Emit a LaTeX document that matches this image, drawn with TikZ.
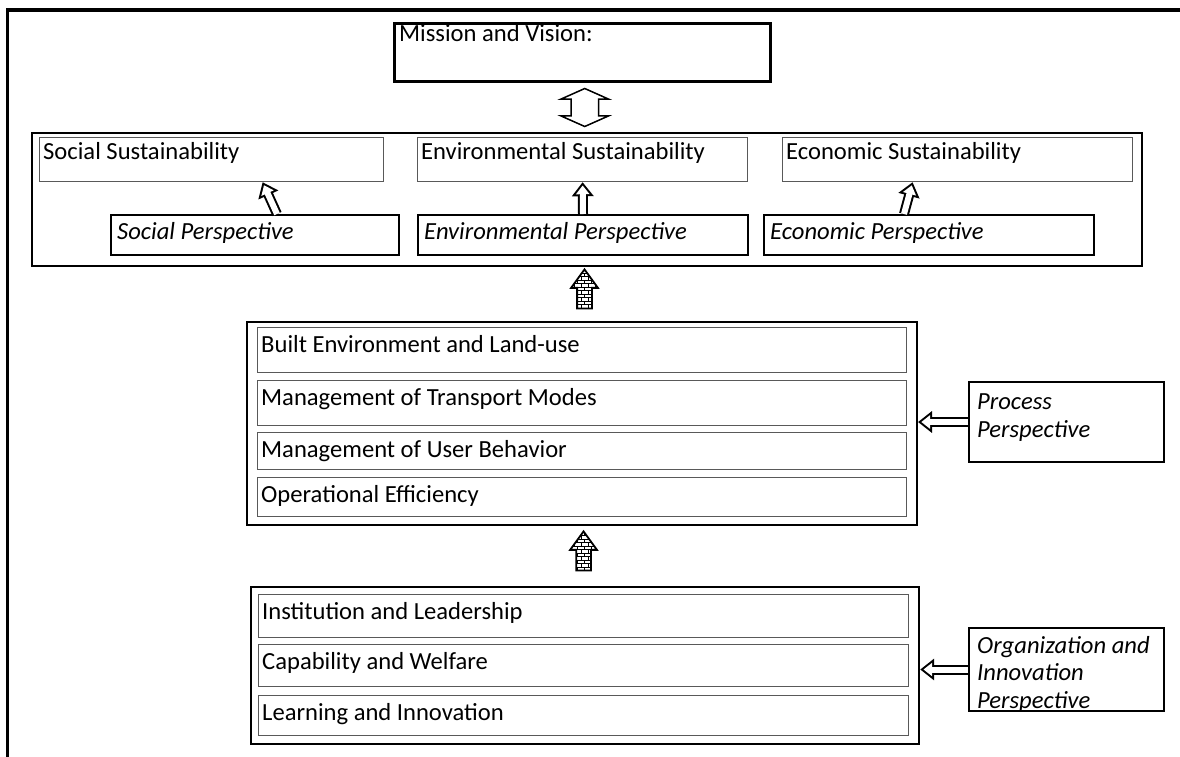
\documentclass[tikz,border=0pt]{standalone}
\usepackage{fontspec}
\setmainfont{Carlito}
\usetikzlibrary{arrows.meta,shapes.arrows,patterns,calc}

% small bricks for the filled up arrows
\pgfdeclarepatternformonly{tinybricks}{\pgfpoint{-1pt}{-1pt}}{\pgfpoint{8pt}{8pt}}{\pgfpoint{7pt}{7pt}}
{
	\pgfsetlinewidth{0.5pt}
	\pgfpathmoveto{\pgfpoint{0pt}{0pt}}\pgfpathlineto{\pgfpoint{7pt}{0pt}}
	\pgfpathmoveto{\pgfpoint{0pt}{3.5pt}}\pgfpathlineto{\pgfpoint{7pt}{3.5pt}}
	\pgfpathmoveto{\pgfpoint{0pt}{0pt}}\pgfpathlineto{\pgfpoint{0pt}{3.5pt}}
	\pgfpathmoveto{\pgfpoint{3.5pt}{3.5pt}}\pgfpathlineto{\pgfpoint{3.5pt}{7pt}}
	\pgfusepath{stroke}
}

\begin{document}
\begin{tikzpicture}[x = 1pt, y = -1pt]
		\tikzstyle{every node} = [font = \fontsize{24.6}{27.5}\selectfont]
		\tikzstyle{box} = [draw, anchor = north west, inner sep = 0pt]
		\tikzstyle{row} = [box, line width = 1.2pt, draw = black!65]
		\tikzstyle{panel} = [box, line width = 2pt]
		\tikzstyle{lbl} = [anchor = north west, inner xsep = 4pt, inner ysep = 8pt, text height = 17pt]
		\tikzstyle{lbltwo} = [anchor = north west, align = left, inner xsep = 9pt]
		% outline arrow: black body first, white inside on top
		\tikzstyle{hollow} = [draw = white, line width = 6pt, shorten > = 3.3pt,
			-{Triangle[length = 8.7pt, width = 13pt]},
			preaction = {draw = black, line width = 10pt, shorten > = 0pt, -{Triangle[length = 14pt, width = 21pt]}}]
		\tikzstyle{brick} = [single arrow, draw, line width = 1.8pt, rotate = 90, pattern = tinybricks,
			minimum height = 39pt, inner xsep = 0pt, inner ysep = 6.5pt,
			single arrow head extend = 6pt, single arrow tip angle = 72]
		\tikzstyle{updown} = [double arrow, draw, line width = 1.5pt, rotate = 90,
			minimum height = 38pt, inner xsep = 0pt, inner ysep = 13pt,
			double arrow head extend = 10pt, double arrow tip angle = 132]

		\useasboundingbox (0,0) rectangle (1180,756);
		\clip (0,0) rectangle (1180,756);

		% frame, open to the right and bottom
		\draw[line width = 3.5pt] (7.5,770) -- (7.5,10) -- (1190,10);

		% top: mission
		\node[box, line width = 3pt, minimum width = 376pt, minimum height = 58pt,
			label = {[lbl, inner xsep = 6pt, inner ysep = 2pt]north west:{Mission and Vision:}}] (mission) at (393,22) {};

		% three pillars
		\node[panel, minimum width = 1110pt, minimum height = 133pt] (sustain) at (31,132) {};
		\node[updown] (link) at ($(mission.south)!.5!(sustain.north)$) {};

		\node[row, minimum width = 344pt, minimum height = 44pt,
			label = {[lbl, inner ysep = 5pt]north west:Social Sustainability}] (socs) at (39,137) {};
		\node[row, minimum width = 330pt, minimum height = 44pt,
			label = {[lbl, inner ysep = 5pt]north west:Environmental Sustainability}] (envs) at (417,137) {};
		\node[row, minimum width = 350pt, minimum height = 44pt,
			label = {[lbl, inner ysep = 5pt]north west:Economic Sustainability}] (econs) at (782,137) {};

		\node[panel, minimum width = 288pt, minimum height = 40pt,
			label = {[lbl, inner xsep = 7pt]north west:\itshape Social Perspective}] (socp) at (110,214) {};
		\node[panel, minimum width = 330pt, minimum height = 40pt,
			label = {[lbl, inner xsep = 7pt]north west:\itshape Environmental Perspective}] (envp) at (417,214) {};
		\node[panel, minimum width = 330pt, minimum height = 40pt,
			label = {[lbl, inner xsep = 7pt]north west:\itshape Economic Perspective}] (econp) at (763,214) {};

		\draw[hollow] ([xshift = 22pt]socp.north) -- ([xshift = 51pt]socs.south);
		\draw[hollow] (envp.north) -- (envs.south);
		\draw[hollow] ([xshift = -25pt]econp.north) -- ([xshift = -45pt]econs.south);

		% process block
		\node[panel, minimum width = 670pt, minimum height = 203pt] (proc) at (246,321) {};
		\foreach \y/\h/\n/\t in {327/45/built/Built Environment and Land-use,
			380/45/modes/Management of Transport Modes,
			432/37/users/Management of User Behavior,
			477/39/ops/Operational Efficiency}
		{
			\node[row, minimum width = 649pt, minimum height = \h pt,
				label = {[lbl]north west:\t}] (\n) at (257,\y) {};
		}
		\node[brick] (upone) at ($(proc.north)!.5!(sustain.south)$) {};

		\node[panel, minimum width = 195pt, minimum height = 80pt,
			label = {[lbltwo, inner ysep = 13pt]north west:\itshape Process\\\itshape Perspective}] (procp) at (968,381) {};
		\draw[hollow] (procp.west) -- (procp.west -| proc.east);

		% organization block
		\node[panel, line width = 2.2pt, minimum width = 668pt, minimum height = 157pt] (org) at (250,586) {};
		\foreach \y/\h/\n/\t in {594/43/inst/Institution and Leadership,
			644/42/capa/Capability and Welfare,
			695/40/learn/Learning and Innovation}
		{
			\node[row, minimum width = 650pt, minimum height = \h pt,
				label = {[lbl]north west:\t}] (\n) at (258,\y) {};
		}
		\node[brick] (uptwo) at ($(org.north)!.5!(proc.south)$) {};

		\node[panel, minimum width = 195pt, minimum height = 83pt,
			label = {[lbltwo, inner ysep = 9pt]north west:\itshape Organization and\\\itshape Innovation\\\itshape Perspective}] (orgp) at (968,627) {};
		\draw[hollow] (orgp.west) -- (orgp.west -| org.east);
	\end{tikzpicture}
\end{document}
